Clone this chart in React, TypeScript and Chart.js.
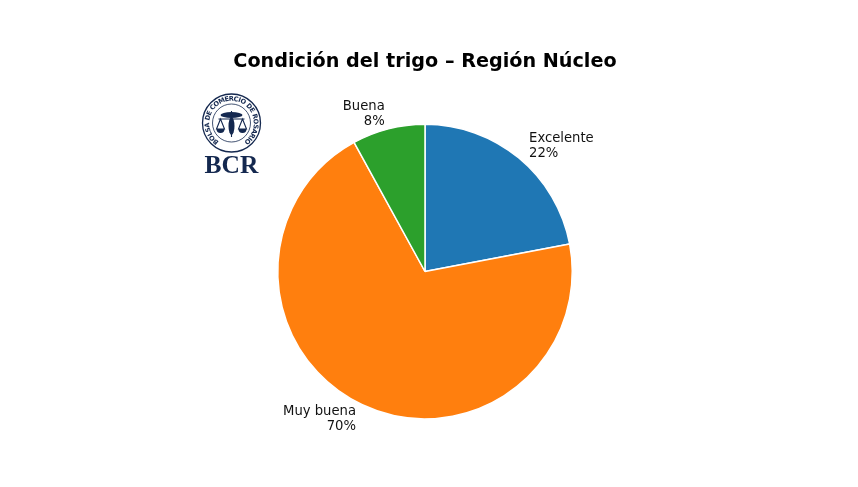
import React, { useEffect, useRef } from "react";
import { Chart, registerables } from "chart.js";

Chart.register(...registerables);

const categories = ["Excelente", "Muy buena", "Buena"];
const values = [22, 70, 8];
const colors = ["#1f77b4", "#ff7f0e", "#2ca02c"];
const titleText = "Condición del trigo – Región Núcleo";
const FONT = "'DejaVu Sans'";
const NAVY = "#14284f";

const overlay = {
  id: "overlay",
  afterDraw(chart: any) {
    const ctx = chart.ctx as CanvasRenderingContext2D;
    ctx.save();
    // title
    ctx.fillStyle = "#000";
    ctx.font = `bold 19.2px ${FONT}`;
    ctx.textAlign = "center";
    ctx.textBaseline = "middle";
    ctx.fillText(titleText, 425, 62);

    // slice labels
    const arcs = chart.getDatasetMeta(0).data;
    ctx.font = `13.2px ${FONT}`;
    ctx.fillStyle = "#111";
    arcs.forEach((arc: any, i: number) => {
      const mid = (arc.startAngle + arc.endAngle) / 2;
      const r = arc.outerRadius * 1.1;
      const x = arc.x + Math.cos(mid) * r;
      const y = arc.y + Math.sin(mid) * r;
      ctx.textAlign = Math.cos(mid) >= 0 ? "left" : "right";
      const dx = Math.cos(mid) >= 0 ? 0.8 : 0;
      const dy = Math.sin(mid) < 0 ? -1 : 0.4;
      ctx.fillText(categories[i], x + dx, y - 7 + dy);
      ctx.fillText(`${values[i]}%`, x + dx, y + 8 + dy);
    });

    // logo seal
    const cx = 231.5, cy = 123;
    ctx.textAlign = "center";
    ctx.strokeStyle = NAVY;
    ctx.lineWidth = 1.3;
    ctx.beginPath(); ctx.arc(cx, cy, 29, 0, Math.PI * 2); ctx.stroke();
    ctx.lineWidth = 0.8;
    ctx.beginPath(); ctx.arc(cx, cy, 19, 0, Math.PI * 2); ctx.stroke();
    ctx.fillStyle = NAVY;
    ctx.font = `bold 6.6px ${FONT}`;
    const sealText = "BOLSA DE COMERCIO DE ROSARIO";
    const widths = [...sealText].map((ch) => ctx.measureText(ch).width);
    const total = widths.reduce((a, b) => a + b, 0);
    const span = Math.PI * 1.62;
    let a = -Math.PI / 2 - span / 2;
    [...sealText].forEach((ch, i) => {
      const w = (widths[i] / total) * span;
      const m = a + w / 2;
      ctx.save();
      ctx.translate(cx + Math.cos(m) * 24, cy + Math.sin(m) * 24);
      ctx.rotate(m + Math.PI / 2);
      ctx.fillText(ch, 0, 0);
      ctx.restore();
      a += w;
    });
    // scales emblem
    ctx.lineWidth = 1.1;
    ctx.beginPath();
    ctx.moveTo(cx - 13, cy - 4); ctx.lineTo(cx + 13, cy - 4);
    ctx.moveTo(cx, cy - 12); ctx.lineTo(cx, cy + 14);
    ctx.moveTo(cx - 11, cy - 4); ctx.lineTo(cx - 15, cy + 6); ctx.lineTo(cx - 7, cy + 6); ctx.closePath();
    ctx.moveTo(cx + 11, cy - 4); ctx.lineTo(cx + 15, cy + 6); ctx.lineTo(cx + 7, cy + 6); ctx.closePath();
    ctx.stroke();
    ctx.beginPath(); ctx.ellipse(cx, cy - 8, 11, 3, 0, 0, Math.PI * 2); ctx.fill();
    ctx.beginPath(); ctx.arc(cx - 11, cy + 6, 4, 0, Math.PI); ctx.fill();
    ctx.beginPath(); ctx.arc(cx + 11, cy + 6, 4, 0, Math.PI); ctx.fill();
    ctx.beginPath(); ctx.ellipse(cx, cy + 3, 3, 9, 0, 0, Math.PI * 2); ctx.fill();

    // logo wordmark
    ctx.font = "bold 25.5px 'Liberation Serif'";
    ctx.fillText("BCR", cx, 166);
    ctx.restore();
  },
};

export default function App() {
  const ref = useRef<HTMLCanvasElement>(null);
  useEffect(() => {
    document.body.style.margin = "0";
    const chart = new Chart(ref.current!, {
      type: "pie",
      data: {
        labels: categories,
        datasets: [
          {
            data: values,
            backgroundColor: colors,
            borderColor: "#ffffff",
            borderWidth: 1.5,
            borderAlign: "center",
          } as any,
        ],
      },
      options: {
        responsive: false,
        animation: false,
        layout: { padding: { left: 277, right: 285, top: 123.5, bottom: 67.5 } },
        plugins: { legend: { display: false }, title: { display: false }, tooltip: { enabled: false } },
      },
      plugins: [overlay],
    });
    return () => chart.destroy();
  }, []);
  return <canvas ref={ref} width={858} height={487} style={{ display: "block", width: 858, height: 487 }} />;
}
